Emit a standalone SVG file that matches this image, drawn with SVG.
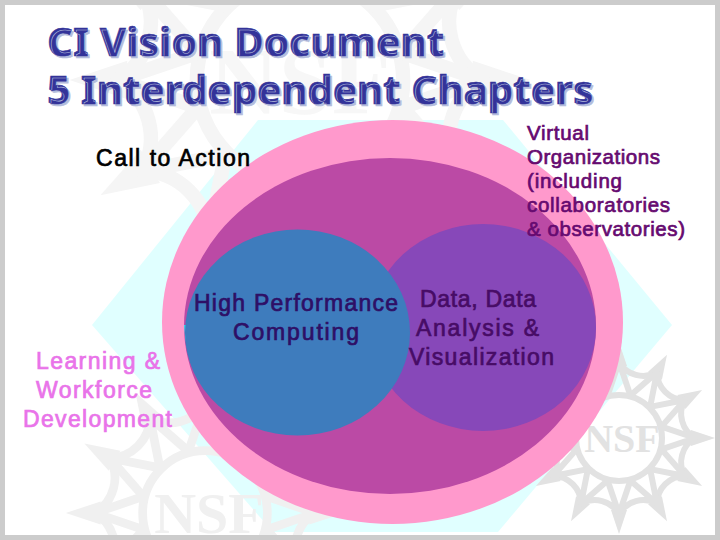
<svg xmlns="http://www.w3.org/2000/svg" xmlns:xlink="http://www.w3.org/1999/xlink" width="720" height="540" viewBox="0 0 720 540">
<style>
.t{font-family:"Noto Sans","DejaVu Sans",sans-serif;font-weight:700;font-size:40px;fill:#333399;stroke:#333399;stroke-width:.6px;text-shadow:2px 2px 0 #b4bcdc}
.l{font-family:"Liberation Sans",Arial,sans-serif;font-size:23px;stroke-width:.7px}
.v{font-family:"Liberation Sans",Arial,sans-serif;font-size:20.500px;fill:#660a70;stroke:#660a70;stroke-width:.7px}
.sn{font-family:"Liberation Serif",serif;font-weight:700;text-anchor:middle}
.sg{fill:none;stroke:currentColor;stroke-linecap:round;stroke-width:6px}
.tip{fill:currentColor;stroke:none}
</style>
<defs>
<clipPath id="slide"><rect x="5" y="5" width="710" height="530"/></clipPath>
<g id="spoke"><path class="tip" d="M0-96L8-72H-8Z"/><path d="M0-76L-11.400-42.500M0-76L11.400-42.500M0-76A28 28 0 0 0 38-65.800"/></g>
<g id="seal" class="sg">
<circle r="43"/>
<use xlink:href="#spoke"/>
<use xlink:href="#spoke" transform="rotate(30)"/>
<use xlink:href="#spoke" transform="rotate(60)"/>
<use xlink:href="#spoke" transform="rotate(90)"/>
<use xlink:href="#spoke" transform="rotate(120)"/>
<use xlink:href="#spoke" transform="rotate(150)"/>
<use xlink:href="#spoke" transform="rotate(180)"/>
<use xlink:href="#spoke" transform="rotate(210)"/>
<use xlink:href="#spoke" transform="rotate(240)"/>
<use xlink:href="#spoke" transform="rotate(270)"/>
<use xlink:href="#spoke" transform="rotate(300)"/>
<use xlink:href="#spoke" transform="rotate(330)"/>
</g>
</defs>
<rect width="720" height="540" fill="#cccccc"/>
<rect x="5" y="5" width="710" height="530" fill="#ffffff"/>
<g id="backdrop"><polygon points="258,120 503,120 672,325 498,532 273,532 92,325" fill="#e0ffff"/></g>
<g id="watermark" clip-path="url(#slide)">
<use xlink:href="#seal" transform="translate(300 80) scale(2.4)" style="color:#f5f5f5"/>
<use xlink:href="#seal" transform="translate(205 513) scale(1.45)" style="color:#f0f0f0"/>
<use xlink:href="#seal" transform="translate(619 438)" style="color:#e2e2e2"/>
<text class="sn" x="300" y="114" font-size="96" fill="#f7f7f7">NSF</text>
<text class="sn" x="209" y="533" font-size="58" fill="#f0f0f0">NSF</text>
<text class="sn" x="622" y="452" font-size="40" fill="#e2e2e2">NSF</text>
</g>
<g id="call-to-action"><ellipse cx="392.500" cy="322" rx="230.500" ry="202" fill="#ff99cc"/></g>
<g id="virtual-organizations"><ellipse cx="390" cy="326" rx="206" ry="168" fill="#bb4aa5"/></g>
<g id="data"><ellipse cx="483" cy="327.500" rx="113" ry="103.500" fill="#8748b9"/></g>
<g id="hpc">
<path d="M185 325Q186 350 196 372" fill="none" stroke="#33ddee" stroke-width="2"/>
<ellipse cx="297.500" cy="332.500" rx="112.500" ry="103" fill="#3e7cbd"/>
</g>
<g id="title">
<text class="t" x="47" y="56" textLength="397">CI Vision Document</text>
<text class="t" x="47" y="104" textLength="546">5 Interdependent Chapters</text>
</g>
<g id="labels">
<text class="l" x="96" y="166" fill="#000" stroke="#000" textLength="154">Call to Action</text>
<text class="v" x="527" y="139.500" textLength="62">Virtual</text>
<text class="v" x="527" y="163.500" textLength="133">Organizations</text>
<text class="v" x="527" y="188" textLength="95">(including</text>
<text class="v" x="527" y="212" textLength="143">collaboratories</text>
<text class="v" x="527" y="236" textLength="158">&amp; observatories)</text>
<g fill="#e973e9" stroke="#e973e9" class="l">
<text x="36" y="369" textLength="124">Learning &amp;</text>
<text x="36" y="398" textLength="116">Workforce</text>
<text x="23" y="427" textLength="149">Development</text>
</g>
<g fill="#2e0f66" stroke="#2e0f66" class="l">
<text x="194" y="311" textLength="204">High Performance</text>
<text x="233" y="340" textLength="126">Computing</text>
</g>
<g fill="#470c66" stroke="#470c66" class="l">
<text x="420" y="307" textLength="116">Data, Data</text>
<text x="416" y="336" textLength="123">Analysis &amp;</text>
<text x="409" y="365" textLength="145">Visualization</text>
</g>
</g>
</svg>
